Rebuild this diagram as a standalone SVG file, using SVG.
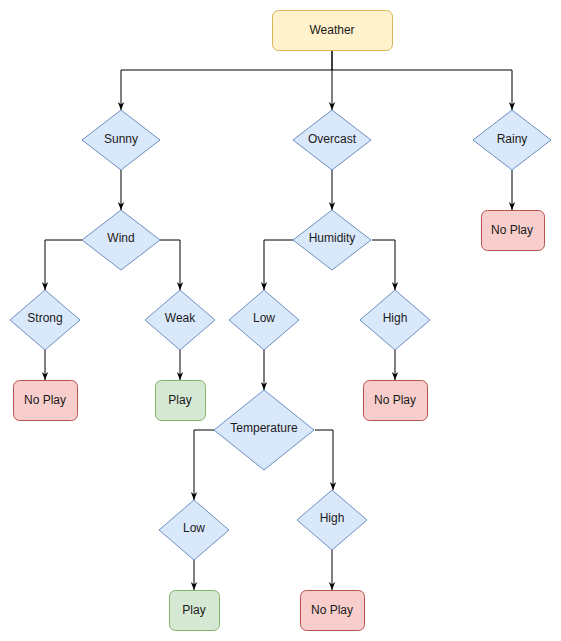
<svg xmlns="http://www.w3.org/2000/svg" width="561" height="641" viewBox="0 0 561 641">
<style>
.d{fill:#dae8fc;stroke:#6c8ebf;stroke-width:1}
.np{fill:#f8cecc;stroke:#b85450;stroke-width:1}
.p{fill:#d5e8d4;stroke:#82b366;stroke-width:1}
.w{fill:#fff2cc;stroke:#d6b656;stroke-width:1}
text{font-family:"Liberation Sans",Arial,sans-serif;font-size:12px;fill:#1a1a1a;text-anchor:middle}
.e{fill:none;stroke:#000;stroke-width:1;marker-end:url(#a)}
</style>
<defs>
<marker id="a" viewBox="0 0 10 10" markerWidth="8" markerHeight="8" refX="10" refY="5" orient="auto" markerUnits="userSpaceOnUse">
<path d="M0,1 L10,5 L0,9 L3,5 z" fill="#000"/>
</marker>
</defs>
<g id="connectors">
<path class="e" d="M332,50 V70 H121 V110"/>
<path class="e" d="M332,50 V110"/>
<path class="e" d="M332,70 H512 V110"/>
<path class="e" d="M121,170 V210"/>
<path class="e" d="M332,170 V210"/>
<path class="e" d="M512,170 V210"/>
<path class="e" d="M82,240 H45 V290"/>
<path class="e" d="M160,240 H180 V290"/>
<path class="e" d="M45,350 V380"/>
<path class="e" d="M180,350 V380"/>
<path class="e" d="M293,240 H264 V290"/>
<path class="e" d="M372,240 H395 V290"/>
<path class="e" d="M264,350 V390"/>
<path class="e" d="M395,350 V380"/>
<path class="e" d="M214,430 H194 V500"/>
<path class="e" d="M315,430 H333 V490"/>
<path class="e" d="M194,560 V590"/>
<path class="e" d="M332,550 V590"/>
</g>
<g id="weather"><rect class="w" x="272.5" y="10.5" width="120" height="40" rx="6"/><text x="332" y="34">Weather</text></g>
<g id="sunny"><path class="d" d="M121,110 L160,140 L121,170 L82,140 Z"/><text x="121" y="143">Sunny</text></g>
<g id="overcast"><path class="d" d="M332,110 L371,140 L332,170 L293,140 Z"/><text x="332" y="143">Overcast</text></g>
<g id="rainy"><path class="d" d="M512,110 L551,140 L512,170 L473,140 Z"/><text x="512" y="143">Rainy</text></g>
<g id="rainy-noplay"><rect class="np" x="481.5" y="210.5" width="63" height="40" rx="6"/><text x="512" y="234">No Play</text></g>
<g id="wind"><path class="d" d="M121,210 L160,240 L121,270 L82,240 Z"/><text x="121" y="242">Wind</text></g>
<g id="humidity"><path class="d" d="M332,210 L371,240 L332,270 L293,240 Z"/><text x="332" y="242">Humidity</text></g>
<g id="strong"><path class="d" d="M45,290 L80,320 L45,350 L10,320 Z"/><text x="45" y="322">Strong</text></g>
<g id="weak"><path class="d" d="M180,290 L215,320 L180,350 L145,320 Z"/><text x="180" y="322">Weak</text></g>
<g id="hum-low"><path class="d" d="M264,290 L299,320 L264,350 L229,320 Z"/><text x="264" y="322">Low</text></g>
<g id="hum-high"><path class="d" d="M395,290 L430,320 L395,350 L360,320 Z"/><text x="395" y="322">High</text></g>
<g id="strong-noplay"><rect class="np" x="13.5" y="380.5" width="64" height="40" rx="6"/><text x="45" y="404">No Play</text></g>
<g id="weak-play"><rect class="p" x="155.5" y="380.5" width="50" height="40" rx="6"/><text x="180" y="404">Play</text></g>
<g id="high-noplay"><rect class="np" x="363.5" y="380.5" width="64" height="40" rx="6"/><text x="395" y="404">No Play</text></g>
<g id="temperature"><path class="d" d="M264,390 L314,430 L264,470 L214,430 Z"/><text x="264" y="432">Temperature</text></g>
<g id="temp-low"><path class="d" d="M194,500 L229,530 L194,560 L159,530 Z"/><text x="194" y="532">Low</text></g>
<g id="temp-high"><path class="d" d="M332,490 L367,520 L332,550 L297,520 Z"/><text x="332" y="522">High</text></g>
<g id="low-play"><rect class="p" x="169.5" y="590.5" width="50" height="40" rx="6"/><text x="194" y="614">Play</text></g>
<g id="temphigh-noplay"><rect class="np" x="300.5" y="590.5" width="64" height="40" rx="6"/><text x="332" y="614">No Play</text></g>
</svg>
